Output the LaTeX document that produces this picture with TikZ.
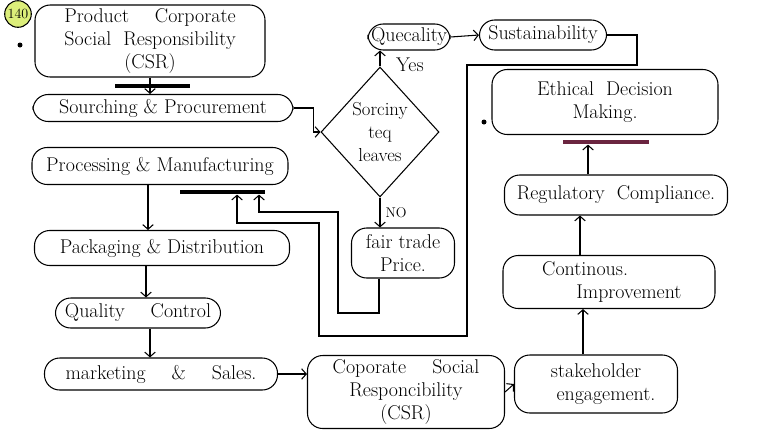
\documentclass[tikz,border=0pt]{standalone}
\usetikzlibrary{shapes.geometric,arrows.meta}
\definecolor{marker}{HTML}{DCEE7A}
\definecolor{plum}{HTML}{6B2540}
\tikzset{
  box/.style={draw, line width=0.9pt, rounded corners=13pt, align=center, inner sep=1pt, font=\fontsize{17}{20}\selectfont},
  choice/.style={draw, diamond, line width=0.9pt, align=center, inner sep=0pt, font=\fontsize{16}{20}\selectfont},
  bar/.style={fill=#1, inner sep=0pt, minimum height=3.5pt},
  bar/.default=black,
  wh/.style 2 args={minimum width=#1, minimum height=#2}
}
\begin{document}
\begin{tikzpicture}[x=0.03cm, y=-0.03cm, line width=0.9pt, >={Straight Barb[length=4pt,width=9pt]}]
                        \useasboundingbox (0,0) rectangle (758,439);

                        \node[draw, circle, fill=marker, inner sep=1.2pt, font=\large] (num) at (18,14) {140};
                        \fill (20,45) circle (2.5);
                        \fill (484,122) circle (2.5);

                        \node[box, wh={6.9cm}{2.16cm}] (csr) at (150,41) {Product \quad Corporate\\Social \ Responsibility\\(CSR)};
                        \node[box, wh={7.8cm}{0.81cm}] (src) at (163,108) {Sourching \& Procurement};
                        \node[box, wh={7.68cm}{1.11cm}] (proc) at (160,166) {Processing \& Manufacturing};
                        \node[box, wh={7.65cm}{1.05cm}] (pack) at (162,248) {Packaging \& Distribution};
                        \node[box, wh={4.95cm}{0.9cm}] (qc) at (138,313) {Quality \quad Control};
                        \node[box, wh={6.99cm}{0.96cm}] (mkt) at (161,374) {marketing \quad \& \quad Sales.};
                        \node[box, wh={5.91cm}{2.19cm}] (csrb) at (406,392) {Coporate \quad Social\\Responcibility\\(CSR)};
                        \node[box, wh={4.89cm}{1.74cm}] (stake) at (596,384) {stakeholder\\\quad engagement.};
                        \node[box, wh={6.36cm}{1.59cm}] (cont) at (609,282) {Continous. \qquad\quad\\\qquad Improvement};
                        \node[box, wh={6.69cm}{1.2cm}] (reg) at (616,195) {Regulatory \ Compliance.};
                        \node[box, wh={6.78cm}{1.95cm}] (eth) at (605,102) {Ethical \ Decision\\Making.};
                        \node[box, wh={2.46cm}{0.78cm}] (qual) at (409,37) {Quecality};
                        \node[box, wh={3.81cm}{0.9cm}] (sus) at (543,35) {Sustainability};
                        \node[box, wh={3.09cm}{1.5cm}] (fair) at (403,253) {fair trade\\Price.};
                        \node[choice, wh={3.54cm}{3.9cm}] (dia) at (380,132) {Sorciny\\teq\\leaves};

                        \node[bar, minimum width=2.25cm] (topbar) at (152,86) {};
                        \node[bar, minimum width=2.55cm] (midbar) at (222,192) {};
                        \node[bar=plum, minimum width=2.6cm] (ethbar) at (606,142) {};

                        \draw[->] (csr.south) -- (csr.south |- src.north);
                        \draw[->] (src.east) -- ++(20,0) |- (dia.west);
                        \draw[->] (dia.north) -- (dia.north |- qual.south) node[pos=0.1, right=10pt, font=\fontsize{17}{20}\selectfont] (yes) {Yes};
                        \draw[->] (dia.south) -- (dia.south |- fair.north) node[midway, right=1pt, font=\large] (no) {NO};
                        \draw[->] (qual.east) -- (sus.west);
                        \draw[->] (sus.east) -| (637,65) -| (467,336) -| (319,223) -- (237,223) -- (237,0 |- midbar.south);
                        \draw[->] (379,0 |- fair.south) -- (379,313) -| (338,212) -- (259,212) -- (259,0 |- midbar.south);
                        \draw[->] (148,0 |- proc.south) -- (148,0 |- pack.north);
                        \draw[->] (146,0 |- pack.south) -- (146,0 |- qc.north);
                        \draw[->] (150,0 |- qc.south) -- (150,0 |- mkt.north);
                        \draw[->] (mkt.east) -- (csrb.west |- mkt.east);
                        \draw[->] (csrb.east) -- (stake.west);
                        \draw[->] (583,0 |- stake.north) -- (583,0 |- cont.south);
                        \draw[->] (580,0 |- cont.north) -- (580,0 |- reg.south);
                        \draw[->] (588,0 |- reg.north) -- (588,0 |- ethbar.south);
                    \end{tikzpicture}
\end{document}
